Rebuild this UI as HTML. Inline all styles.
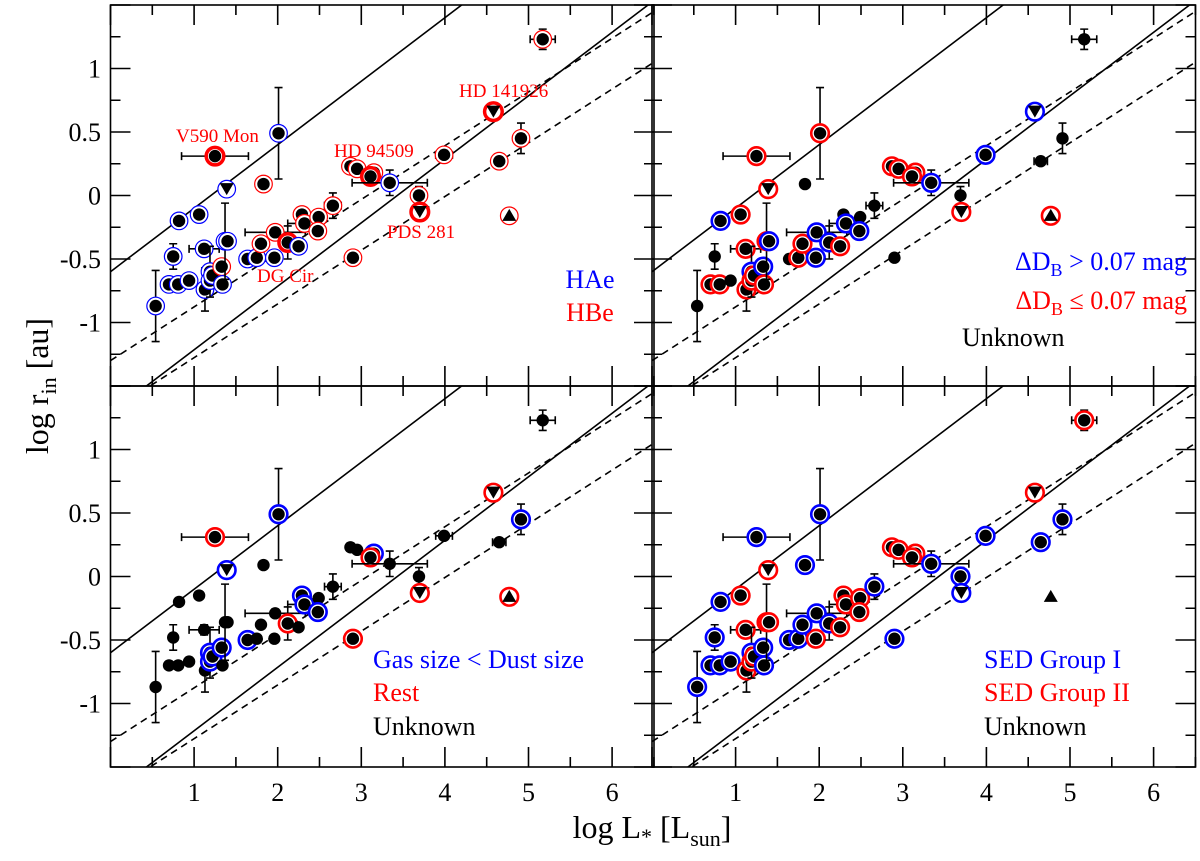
<!DOCTYPE html>
<html><head><meta charset="utf-8"><style>
body{margin:0;background:#fff}
svg text{font-family:"Liberation Serif",serif}
</style></head><body>
<svg id="c" width="1200" height="856" viewBox="0 0 1200 856" xmlns="http://www.w3.org/2000/svg"></svg>
<script>
const xs=[0.54,0.70,0.81,0.94,0.75,0.82,1.06,1.12,1.13,1.19,1.19,1.22,1.33,1.34,1.25,1.39,1.37,1.40,2.01,1.83,1.64,1.75,1.96,1.80,1.97,2.12,2.25,2.29,2.32,2.49,2.48,2.66,2.87,2.95,3.15,3.11,3.34,2.90,3.69,3.70,3.99,4.58,5.17,4.91,4.65,4.77];
const ys=[-0.87,-0.70,-0.70,-0.67,-0.48,-0.20,-0.15,-0.42,-0.74,-0.60,-0.67,-0.63,-0.56,-0.70,0.31,0.05,-0.36,-0.36,0.49,0.09,-0.50,-0.49,-0.49,-0.38,-0.29,-0.37,-0.40,-0.15,-0.22,-0.17,-0.28,-0.08,0.23,0.21,0.18,0.15,0.10,-0.49,0.0,-0.13,0.32,0.66,1.23,0.45,0.27,-0.16];
const shapes=["c","c","c","c","c","c","c","c","c","c","c","c","c","c","c","v","c","c","c","c","c","c","c","c","c","c","c","c","c","c","c","c","c","c","c","c","c","c","c","v","c","v","c","c","c","^"];
const xerr=[0,0,0,0,0,0,0,0.18,0,0,0,0,0,0,0.4,0,0,0,0,0,0,0,0,0,0.36,0,0,0,0.2,0,0,0.1,0,0,0,0,0.45,0,0,0,0.1,0,0.15,0,0.08,0];
const yerr=[0.28,0,0,0,0.1,0,0,0.04,0.17,0.2,0,0,0,0,0,0,0.3,0,0.36,0,0,0,0,0,0,0.13,0,0,0,0,0.06,0.1,0,0,0,0,0.1,0,0.07,0,0,0,0.08,0.12,0,0];
const cls1="bbbbbbbbbbbbrbrbbbbrbbbrrrbrrrrrrrrrbrrrrrrrrr".split("");
const cls2="krrkkbrrrbrrbrrrrbrkkrbrbbrkbkbkrrrrbkkrbbkkkr".split("");
const cls3="kkkkkkkkkbbbbkrbkkbkbkkkkrkbbkbkkkbrkrkrkrkbkr".split("");
const cls4="bbbbbbrrrbrrbbbrrrbbbbrbbbrrrrrbrrrrbbbbbrrbbk".split("");
const thick1=[14,25,35,39,41];
const yTicks=[1,0.5,0,-0.5,-1];
const xTicks=[1,2,3,4,5,6];
const lineDefs=[[-0.6,0.5,"none"],[-1.715,0.5,"none"],[-1.3,0.423,"7,5"],[-1.70,0.423,"7,5"]];

const NS="http://www.w3.org/2000/svg",svg=document.getElementById('c');
function mk(t,a,p){const e=document.createElementNS(NS,t);for(const k in a)e.setAttribute(k,a[k]);(p||svg).appendChild(e);return e;}
const U=83.6,V=127,W=543.5,H=381;
const panels=[{l:110.5,t:5,c:cls1,n:"panel-hae-hbe"},{l:652,t:5,c:cls2,n:"panel-delta-db"},{l:110.5,t:386,c:cls3,n:"panel-gas-size"},{l:652,t:386,c:cls4,n:"panel-sed-group"}];
const col={b:"#0000ff",r:"#ff0000"};
panels.forEach((P,pi)=>{
  const X=x=>P.l+x*U, Y=y=>P.t+(1.5-y)*V;
  const g=mk('g',{});
  
  
  const cp=mk('clipPath',{id:'cp'+pi},g);mk('rect',{x:P.l,y:P.t,width:W,height:H},cp);
  const lg=mk('g',{'clip-path':'url(#cp'+pi+')'},g);
  lineDefs.forEach((d,i)=>{const l=mk('line',{x1:X(0),y1:Y(d[0]),x2:X(6.5),y2:Y(d[0]+d[1]*6.5),stroke:'#000','stroke-width':1.6,'stroke-dasharray':d[2]},lg);
    
    });
  xs.forEach((x,i)=>{
    const cx=X(x),cy=Y(ys[i]);
    const pg=mk('g',{},lg);
    
    
    if(xerr[i]){mk('path',{d:`M${X(x-xerr[i])},${cy}H${X(x+xerr[i])}M${X(x-xerr[i])},${cy-4}v8M${X(x+xerr[i])},${cy-4}v8`,stroke:'#000','stroke-width':1.6,fill:'none'},pg);}
    if(yerr[i]){mk('path',{d:`M${cx},${Y(ys[i]+yerr[i])}V${Y(ys[i]-yerr[i])}M${cx-4},${Y(ys[i]+yerr[i])}h8M${cx-4},${Y(ys[i]-yerr[i])}h8`,stroke:'#000','stroke-width':1.6,fill:'none'},pg);}
    const c=P.c[i];
    if(c!=='k'){let sw=pi===0?1.2:2.6; if(pi===0&&thick1.includes(i))sw=3.5;
      mk('circle',{cx,cy,r:8.8,fill:'#fff',stroke:col[c],'stroke-width':sw},pg);}
    const s=shapes[i];
    if(s==='v')mk('path',{d:`M${cx-7},${cy-6}h14l-7,12z`,fill:'#000'},pg);
    else if(s==='^')mk('path',{d:`M${cx-7},${cy+5}h14l-7,-12z`,fill:'#000'},pg);
    else mk('circle',{cx,cy,r:6.2,fill:'#000'},pg);
  });
  let d="";
  for(let k=0;k<=13;k++){const x=X(k*0.5),L=k%2===0?20:10;d+=`M${x},${P.t}v${L}M${x},${P.t+H}v${-L}`;}
  for(let k=-6;k<=6;k++){const y=Y(k*0.25),L=k%2===0?20:10;d+=`M${P.l},${y}h${L}M${P.l+W},${y}h${-L}`;}
  mk('path',{d,stroke:'#000','stroke-width':1.6,fill:'none'},g);
  const fr=mk('rect',{x:P.l,y:P.t,width:W,height:H,fill:'none',stroke:'#000','stroke-width':1.6},g);
  
  
  if(P.l<200){yTicks.forEach(v=>{const t=mk('text',{x:101,y:Y(v)+9,'text-anchor':'end','font-size':26},g);t.textContent=v;
    
    });}
  if(P.t>100){xTicks.forEach(v=>{const t=mk('text',{x:X(v),y:801,'text-anchor':'middle','font-size':26},g);t.textContent=v;
    
    });}
});
</script>
<svg width="1200" height="856" style="position:absolute;left:0;top:0">
<g font-family="Liberation Serif,serif" fill="#ff0000" font-size="19">
<text x="176" y="142">V590 Mon</text>
<text x="334" y="157">HD 94509</text>
<text x="257" y="282">DG Cir</text>
<text x="387" y="238">PDS 281</text>
<text x="459" y="97">HD 141926</text>
</g>
<g font-family="Liberation Serif,serif" font-size="26">
<text x="590" y="288" text-anchor="middle" fill="#0000ff">HAe</text>
<text x="590" y="321" text-anchor="middle" fill="#ff0000">HBe</text>
<text x="1187" y="270" text-anchor="end" fill="#0000ff">ΔD<tspan font-size="18" dy="6">B</tspan><tspan dy="-6"> &gt; 0.07 mag</tspan></text>
<text x="1187" y="309" text-anchor="end" fill="#ff0000">ΔD<tspan font-size="18" dy="6">B</tspan><tspan dy="-6"> ≤ 0.07 mag</tspan></text>
<text x="962" y="346" fill="#000">Unknown</text>
<text x="373" y="668" fill="#0000ff">Gas size &lt; Dust size</text>
<text x="373" y="701" fill="#ff0000">Rest</text>
<text x="373" y="735" fill="#000">Unknown</text>
<text x="984" y="668" fill="#0000ff">SED Group I</text>
<text x="984" y="701" fill="#ff0000">SED Group II</text>
<text x="984" y="735" fill="#000">Unknown</text>
</g>
<text x="652" y="838" text-anchor="middle" font-family="Liberation Serif,serif" font-size="32">log L<tspan font-size="22" dy="6">*</tspan><tspan dy="-6"> [L</tspan><tspan font-size="22" dy="8">sun</tspan><tspan dy="-8">]</tspan></text>
<text transform="translate(48,386) rotate(-90)" text-anchor="middle" font-family="Liberation Serif,serif" font-size="32">log r<tspan font-size="22" dy="8">in</tspan><tspan dy="-8"> [au]</tspan></text>
</svg>
</body></html>
